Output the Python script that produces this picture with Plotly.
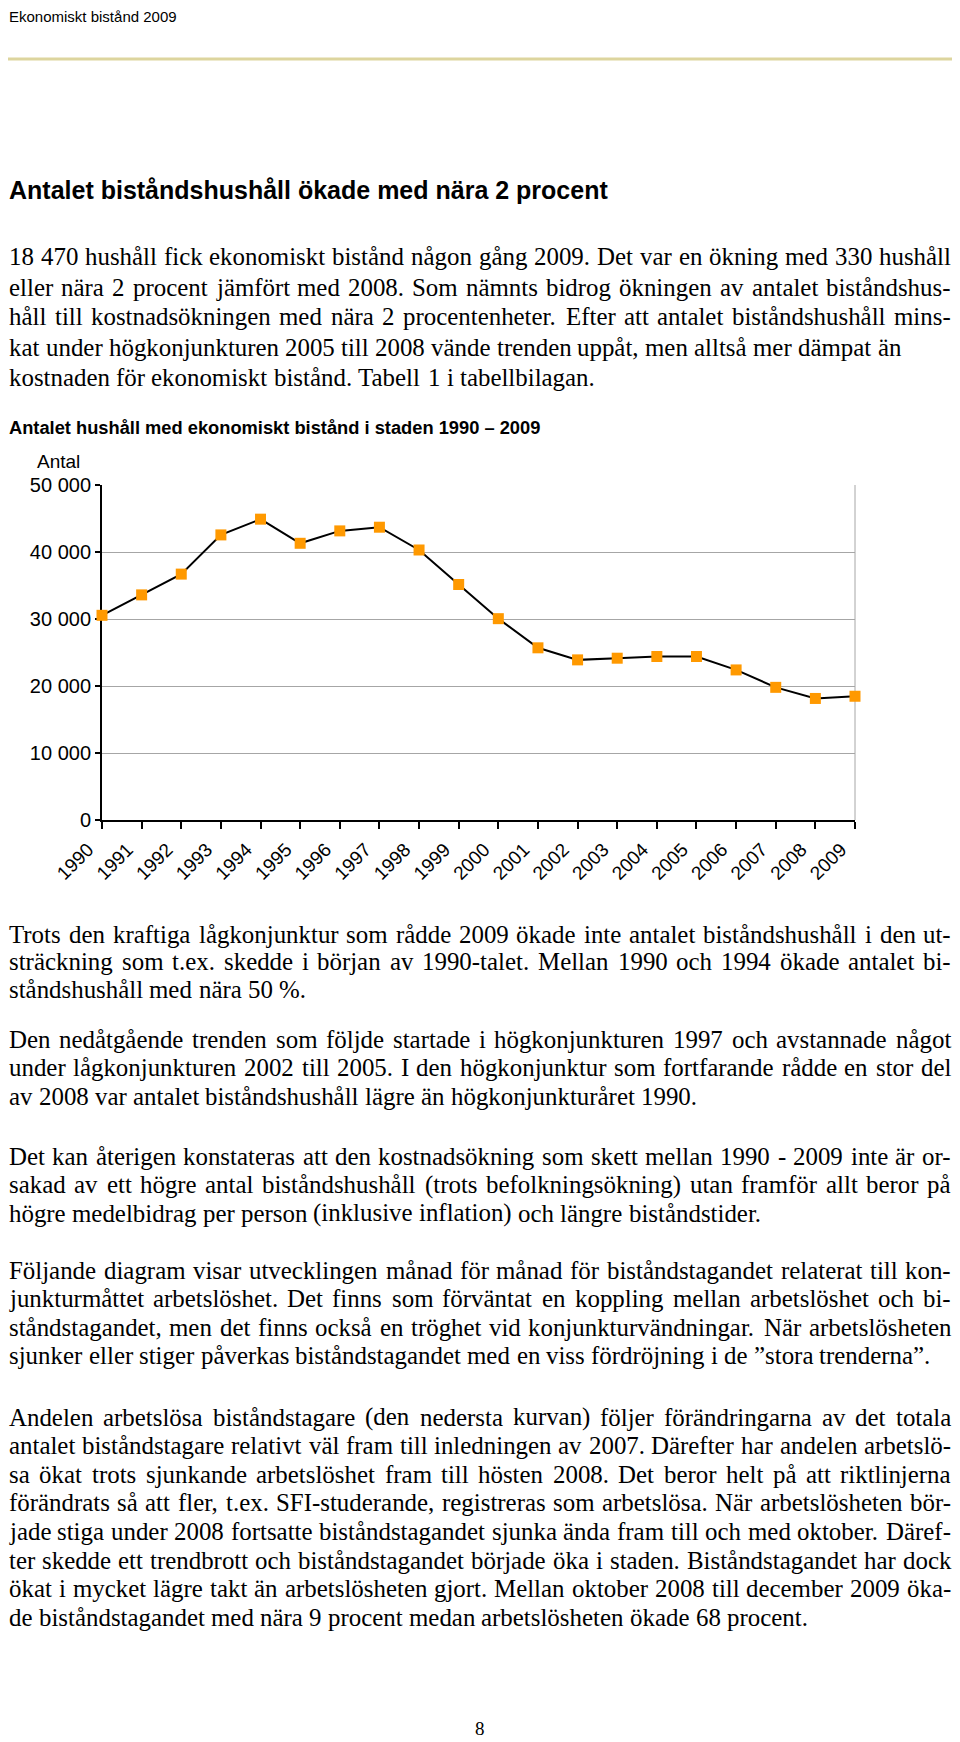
import plotly.graph_objects as go

# ---------------- data ----------------
years = [1990, 1991, 1992, 1993, 1994, 1995, 1996, 1997, 1998, 1999,
         2000, 2001, 2002, 2003, 2004, 2005, 2006, 2007, 2008, 2009]
households = [30550, 33600, 36700, 42550, 44900, 41300, 43150, 43700, 40300, 35150,
              30050, 25700, 23900, 24150, 24400, 24400, 22400, 19800, 18140, 18470]
year_labels = [str(y) for y in years]
y_tickvals = [0, 10000, 20000, 30000, 40000, 50000]
y_ticktext = ["0", "10 000", "20 000", "30 000", "40 000", "50 000"]

header_text = "Ekonomiskt bistånd 2009"
heading_text = "Antalet biståndshushåll ökade med nära 2 procent"
chart_title = "Antalet hushåll med ekonomiskt bistånd i staden 1990 – 2009"
y_title = "Antal"
page_number = "8"

# (text, justified?)
para1 = [
    ("18 470 hushåll fick ekonomiskt bistånd någon gång 2009. Det var en ökning med 330 hushåll", True),
    ("eller nära 2 procent jämfört med 2008. Som nämnts bidrog ökningen av antalet biståndshus-", True),
    ("håll till kostnadsökningen med nära 2 procentenheter. Efter att antalet biståndshushåll mins-", True),
    ("kat under högkonjunkturen 2005 till 2008 vände trenden uppåt, men alltså mer dämpat än", False),
    ("kostnaden för ekonomiskt bistånd. Tabell 1 i tabellbilagan.", False),
]
para2 = [
    ("Trots den kraftiga lågkonjunktur som rådde 2009 ökade inte antalet biståndshushåll i den ut-", True),
    ("sträckning som t.ex. skedde i början av 1990-talet. Mellan 1990 och 1994 ökade antalet bi-", True),
    ("ståndshushåll med nära 50 %.", False),
]
para3 = [
    ("Den nedåtgående trenden som följde startade i högkonjunkturen 1997 och avstannade något", True),
    ("under lågkonjunkturen 2002 till 2005. I den högkonjunktur som fortfarande rådde en stor del", True),
    ("av 2008 var antalet biståndshushåll lägre än högkonjunkturåret 1990.", False),
]
para4 = [
    ("Det kan återigen konstateras att den kostnadsökning som skett mellan 1990 - 2009 inte är or-", True),
    ("sakad av ett högre antal biståndshushåll (trots befolkningsökning) utan framför allt beror på", True),
    ("högre medelbidrag per person (inklusive inflation) och längre biståndstider.", False),
]
para5 = [
    ("Följande diagram visar utvecklingen månad för månad för biståndstagandet relaterat till kon-", True),
    ("junkturmåttet arbetslöshet. Det finns som förväntat en koppling mellan arbetslöshet och bi-", True),
    ("ståndstagandet, men det finns också en tröghet vid konjunkturvändningar. När arbetslösheten", True),
    ("sjunker eller stiger påverkas biståndstagandet med en viss fördröjning i de ”stora trenderna”.", False),
]
para6 = [
    ("Andelen arbetslösa biståndstagare (den nedersta kurvan) följer förändringarna av det totala", True),
    ("antalet biståndstagare relativt väl fram till inledningen av 2007. Därefter har andelen arbetslö-", True),
    ("sa ökat trots sjunkande arbetslöshet fram till hösten 2008. Det beror helt på att riktlinjerna", True),
    ("förändrats så att fler, t.ex. SFI-studerande, registreras som arbetslösa. När arbetslösheten bör-", True),
    ("jade stiga under 2008 fortsatte biståndstagandet sjunka ända fram till och med oktober. Däref-", True),
    ("ter skedde ett trendbrott och biståndstagandet började öka i staden. Biståndstagandet har dock", True),
    ("ökat i mycket lägre takt än arbetslösheten gjort. Mellan oktober 2008 till december 2009 öka-", True),
    ("de biståndstagandet med nära 9 procent medan arbetslösheten ökade 68 procent.", False),
]

# ---------------- layout constants (page pixels) ----------------
PAGE_W, PAGE_H = 960, 1742
OFF = 8                      # default body margin of the html page
W, H = PAGE_W - OFF, PAGE_H - OFF
SERIF = "Liberation Serif, Times New Roman, serif"
SANS = "Liberation Sans, Arial, sans-serif"
BODY_SIZE = 24.9
LEFT, RIGHT = 9, 951

# Times New Roman / Liberation Serif advance widths (1/1000 em)
TW = {' ': 250, '!': 333, '"': 408, '%': 833, "'": 180, '(': 333, ')': 333, ',': 250,
      '-': 333, '.': 250, '/': 278, ':': 278, ';': 278, '”': 444, '“': 444, '–': 500}
for ch in '0123456789':
    TW[ch] = 500
TW.update(dict(A=722, B=667, C=667, D=722, E=611, F=556, G=722, H=722, I=333, J=389,
               K=722, L=611, M=889, N=722, O=722, P=556, Q=722, R=667, S=556, T=611,
               U=722, V=722, W=944, X=722, Y=722, Z=611))
TW.update(dict(a=444, b=500, c=444, d=500, e=444, f=333, g=500, h=500, i=278, j=278,
               k=500, l=278, m=778, n=500, o=500, p=500, q=500, r=333, s=389, t=278,
               u=500, v=500, w=722, x=500, y=500, z=444))
TW.update({'å': 444, 'ä': 444, 'ö': 500, 'é': 444, 'Å': 722, 'Ä': 722, 'Ö': 722})


def text_width(s, size):
    return sum(TW.get(c, 500) for c in s) * size / 1000.0


def px(x):
    return (x - OFF) / W


def py(y):
    return 1 - (y - OFF) / H


annotations = []


def add_text(text, x, y, size, family, bold=False, anchor="left"):
    annotations.append(dict(
        text=("<b>%s</b>" % text) if bold else text,
        x=px(x), y=py(y), xref="paper", yref="paper",
        xanchor=anchor, yanchor="middle", showarrow=False,
        font=dict(family=family, size=size, color="black"),
        borderpad=0, borderwidth=0,
    ))


def add_paragraph(lines, y0, step):
    for k, (line, justify) in enumerate(lines):
        y = y0 + k * step
        words = line.split(" ")
        widths = [text_width(w, BODY_SIZE) for w in words]
        if justify and len(words) > 1:
            gap = (RIGHT - LEFT - sum(widths)) / (len(words) - 1)
        else:
            gap = TW[' '] * BODY_SIZE / 1000.0
        x = LEFT
        for w, wd in zip(words, widths):
            add_text(w, x, y, BODY_SIZE, SERIF)
            x += wd + gap


add_text(header_text, 9, 17, 15, SANS)
add_text(heading_text, 9, 190, 25, SANS, bold=True)
add_paragraph(para1, 257, 30.0)
add_text(chart_title, 9, 428, 18.3, SANS, bold=True)
add_text(y_title, 58, 461, 19, SANS, anchor="center")
add_paragraph(para2, 934, 27.8)
add_paragraph(para3, 1039, 28.5)
add_paragraph(para4, 1156, 28.6)
add_paragraph(para5, 1270, 28.6)
add_paragraph(para6, 1417, 28.6)
add_text(page_number, 480, 1728, 19, SERIF, anchor="center")

# ---------------- figure ----------------
fig = go.Figure()
fig.add_trace(go.Scatter(
    x=years, y=households, mode="lines+markers",
    line=dict(color="black", width=2),
    marker=dict(symbol="square", size=11, color="#FF9900", line=dict(width=0)),
    cliponaxis=False, showlegend=False, hoverinfo="x+y",
))

fig.update_layout(
    width=W, height=H,
    margin=dict(l=0, r=0, t=0, b=0, autoexpand=False),
    paper_bgcolor="white", plot_bgcolor="white",
    annotations=annotations,
    xaxis=dict(
        domain=[px(102), px(855)], range=[1990, 2009], automargin=False,
        tickmode="array", tickvals=years, ticktext=year_labels, tickangle=-45,
        ticks="outside", ticklen=7, tickwidth=2, tickcolor="black",
        ticklabelshift=-14, ticklabelstandoff=2,
        showline=True, linecolor="black", linewidth=2, showgrid=False, zeroline=False,
        tickfont=dict(family=SANS, size=19, color="black"), layer="below traces",
        fixedrange=True,
    ),
    yaxis=dict(
        domain=[py(820), py(485)], range=[0, 50000], automargin=False,
        tickmode="array", tickvals=y_tickvals, ticktext=y_ticktext,
        ticks="outside", ticklen=5, tickwidth=1.5, tickcolor="black",
        showline=True, linecolor="black", linewidth=2,
        showgrid=True, gridcolor="#a6a6a6", gridwidth=1, zeroline=False,
        tickfont=dict(family=SANS, size=20, color="black"), layer="below traces",
        fixedrange=True,
    ),
    shapes=[
        # header rule
        dict(type="line", xref="paper", yref="paper", x0=px(8), x1=px(956),
             y0=py(59), y1=py(59), line=dict(color="#DDD59E", width=3)),
        # right frame of the plot area
        dict(type="line", xref="x domain", yref="y domain", x0=1, x1=1, y0=0, y1=1,
             line=dict(color="#a6a6a6", width=1), layer="below"),
    ],
)

fig.write_html("out.html")
